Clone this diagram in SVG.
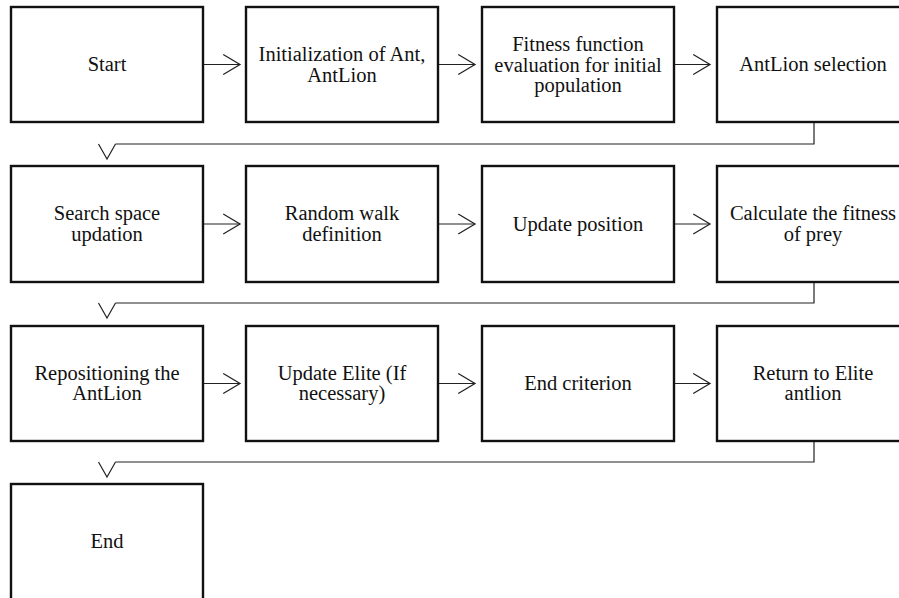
<svg xmlns="http://www.w3.org/2000/svg" width="899" height="598" viewBox="0 0 899 598">
<style>
  .box { fill: #ffffff; stroke: #111111; stroke-width: 2.4; }
  .lbl { font-family: 'Liberation Serif', Tinos, 'Times New Roman', Times, 'DejaVu Serif', serif; font-size: 20.5px; fill: #111111; text-anchor: middle; }
  .con { fill: none; stroke: #222222; stroke-width: 1.2; }
</style>
<defs>
  <marker id="open" markerUnits="userSpaceOnUse" markerWidth="20" markerHeight="22" viewBox="-1 -1 19 21" refX="16" refY="9.5" orient="auto">
    <path d="M0,0 L16,9.5 L0,19" fill="none" stroke="#222222" stroke-width="1.2"/>
  </marker>
</defs>
<rect width="899" height="598" fill="#ffffff"/>

<g id="connectors">
  <path class="con" d="M203,64.5 H240" marker-end="url(#open)"/>
  <path class="con" d="M438,64.5 H475" marker-end="url(#open)"/>
  <path class="con" d="M674,64.5 H710" marker-end="url(#open)"/>
  <path class="con" d="M814,122 V144 H115.5"/>
  <path class="con" d="M98.5,144 L107,159 L115.5,144"/>
  <path class="con" d="M203,224 H240" marker-end="url(#open)"/>
  <path class="con" d="M438,224 H475" marker-end="url(#open)"/>
  <path class="con" d="M674,224 H710" marker-end="url(#open)"/>
  <path class="con" d="M814,282 V303 H115.5"/>
  <path class="con" d="M98.5,303 L107,318 L115.5,303"/>
  <path class="con" d="M203,383.5 H240" marker-end="url(#open)"/>
  <path class="con" d="M438,383.5 H475" marker-end="url(#open)"/>
  <path class="con" d="M674,383.5 H710" marker-end="url(#open)"/>
  <path class="con" d="M814,441 V462 H115.5"/>
  <path class="con" d="M98.5,462 L107,477 L115.5,462"/>
</g>

<g id="n-start">
  <rect class="box" x="11" y="7" width="192" height="115"/>
  <text class="lbl" x="107" y="71">Start</text>
</g>
<g id="n-init">
  <rect class="box" x="246" y="7" width="192" height="115"/>
  <text class="lbl" x="342" y="61">Initialization of Ant,</text>
  <text class="lbl" x="342" y="81.5">AntLion</text>
</g>
<g id="n-fitness-init">
  <rect class="box" x="482" y="7" width="192" height="115"/>
  <text class="lbl" x="578" y="51">Fitness function</text>
  <text class="lbl" x="578" y="71.5">evaluation for initial</text>
  <text class="lbl" x="578" y="92">population</text>
</g>
<g id="n-selection">
  <rect class="box" x="717" y="7" width="192" height="115"/>
  <text class="lbl" x="813" y="71">AntLion selection</text>
</g>

<g id="n-search">
  <rect class="box" x="11" y="166" width="192" height="116"/>
  <text class="lbl" x="107" y="220">Search space</text>
  <text class="lbl" x="107" y="240.5">updation</text>
</g>
<g id="n-randomwalk">
  <rect class="box" x="246" y="166" width="192" height="116"/>
  <text class="lbl" x="342" y="220">Random walk</text>
  <text class="lbl" x="342" y="240.5">definition</text>
</g>
<g id="n-update">
  <rect class="box" x="482" y="166" width="192" height="116"/>
  <text class="lbl" x="578" y="230.5">Update position</text>
</g>
<g id="n-calc">
  <rect class="box" x="717" y="166" width="192" height="116"/>
  <text class="lbl" x="813" y="220">Calculate the fitness</text>
  <text class="lbl" x="813" y="240.5">of prey</text>
</g>

<g id="n-repos">
  <rect class="box" x="11" y="326" width="192" height="115"/>
  <text class="lbl" x="107" y="379.5">Repositioning the</text>
  <text class="lbl" x="107" y="400">AntLion</text>
</g>
<g id="n-elite">
  <rect class="box" x="246" y="326" width="192" height="115"/>
  <text class="lbl" x="342" y="379.5">Update Elite (If</text>
  <text class="lbl" x="342" y="400">necessary)</text>
</g>
<g id="n-endcrit">
  <rect class="box" x="482" y="326" width="192" height="115"/>
  <text class="lbl" x="578" y="390">End criterion</text>
</g>
<g id="n-return">
  <rect class="box" x="717" y="326" width="192" height="115"/>
  <text class="lbl" x="813" y="379.5">Return to Elite</text>
  <text class="lbl" x="813" y="400">antlion</text>
</g>

<g id="n-end">
  <rect class="box" x="11" y="484" width="192" height="116"/>
  <text class="lbl" x="107" y="548">End</text>
</g>
</svg>
